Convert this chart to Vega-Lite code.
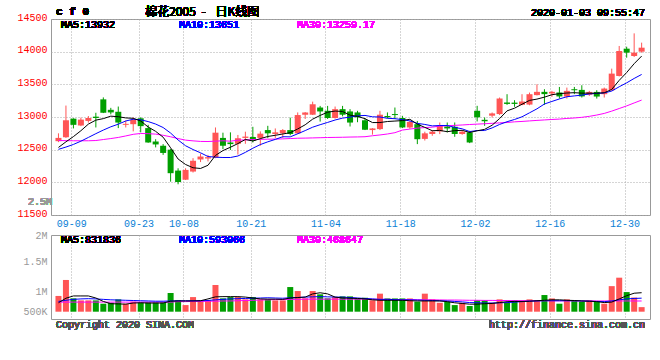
{
  "$schema": "https://vega.github.io/schema/vega-lite/v6.json",
  "background": "white",
  "padding": {"left": 16, "top": 5, "right": 5, "bottom": 5},
  "bounds": "flush",
  "spacing": 20,
  "config": {
    "view": {"stroke": "#999999", "strokeWidth": 1},
    "text": {"font": "Liberation Mono", "fontSize": 10},
    "axis": {"labelFont": "Liberation Mono", "labelFontSize": 10, "title": null, "domain": false, "ticks": false, "labelFlush": false, "labelOverlap": false, "gridDash": [1, 2], "gridColor": "#aaaaaa", "tickCount": 50}
  },
  "datasets": {
    "k": [
      {"i":0,"o":12630,"h":12750,"l":12615,"c":12680,"v":690000,"m5":12534,"m10":12505,"m30":12640,"vm5":390000,"vm10":450000,"vm30":420000},
      {"i":1,"o":12690,"h":13175,"l":12680,"c":12950,"v":1390000,"m5":12620,"m10":12540,"m30":12638,"vm5":590000,"vm10":500000,"vm30":420000},
      {"i":2,"o":12975,"h":12980,"l":12825,"c":12880,"v":585000,"m5":12700,"m10":12580,"m30":12636,"vm5":690000,"vm10":540000,"vm30":420000},
      {"i":3,"o":12870,"h":12990,"l":12860,"c":12960,"v":495000,"m5":12790,"m10":12630,"m30":12636,"vm5":690000,"vm10":560000,"vm30":420000},
      {"i":4,"o":12940,"h":13015,"l":12915,"c":12985,"v":495000,"m5":12891,"m10":12687,"m30":12636,"vm5":690000,"vm10":570000,"vm30":420000},
      {"i":5,"o":13005,"h":13065,"l":12840,"c":12985,"v":495000,"m5":12952,"m10":12745,"m30":12640,"vm5":600000,"vm10":560000,"vm30":420000},
      {"i":6,"o":13270,"h":13300,"l":13060,"c":13065,"v":350000,"m5":12975,"m10":12800,"m30":12655,"vm5":450000,"vm10":540000,"vm30":420000},
      {"i":7,"o":13110,"h":13140,"l":13040,"c":13070,"v":395000,"m5":13013,"m10":12850,"m30":12670,"vm5":350000,"vm10":520000,"vm30":420000},
      {"i":8,"o":13080,"h":13160,"l":12830,"c":12915,"v":540000,"m5":13004,"m10":12890,"m30":12687,"vm5":340000,"vm10":510000,"vm30":420000},
      {"i":9,"o":12880,"h":12945,"l":12840,"c":12895,"v":350000,"m5":12986,"m10":12939,"m30":12710,"vm5":330000,"vm10":500000,"vm30":420000},
      {"i":10,"o":12890,"h":12995,"l":12780,"c":12955,"v":440000,"m5":12980,"m10":12966,"m30":12735,"vm5":380000,"vm10":490000,"vm30":420000},
      {"i":11,"o":12980,"h":12995,"l":12765,"c":12860,"v":410000,"m5":12939,"m10":12957,"m30":12748,"vm5":390000,"vm10":480000,"vm30":420000},
      {"i":12,"o":12830,"h":12880,"l":12605,"c":12610,"v":410000,"m5":12847,"m10":12930,"m30":12745,"vm5":380000,"vm10":470000,"vm30":420000},
      {"i":13,"o":12625,"h":12660,"l":12535,"c":12580,"v":410000,"m5":12780,"m10":12892,"m30":12738,"vm5":380000,"vm10":460000,"vm30":420000},
      {"i":14,"o":12560,"h":12585,"l":12420,"c":12450,"v":410000,"m5":12691,"m10":12839,"m30":12720,"vm5":380000,"vm10":460000,"vm30":420000},
      {"i":15,"o":12500,"h":12510,"l":12010,"c":12140,"v":820000,"m5":12528,"m10":12754,"m30":12697,"vm5":460000,"vm10":470000,"vm30":420000},
      {"i":16,"o":12180,"h":12215,"l":11970,"c":12005,"v":495000,"m5":12357,"m10":12648,"m30":12670,"vm5":470000,"vm10":480000,"vm30":440000},
      {"i":17,"o":12040,"h":12215,"l":12035,"c":12190,"v":290000,"m5":12273,"m10":12560,"m30":12646,"vm5":470000,"vm10":480000,"vm30":440000},
      {"i":18,"o":12165,"h":12370,"l":12150,"c":12330,"v":640000,"m5":12223,"m10":12502,"m30":12635,"vm5":470000,"vm10":480000,"vm30":450000},
      {"i":19,"o":12350,"h":12440,"l":12310,"c":12395,"v":495000,"m5":12212,"m10":12452,"m30":12626,"vm5":480000,"vm10":480000,"vm30":450000},
      {"i":20,"o":12365,"h":12420,"l":12320,"c":12385,"v":495000,"m5":12261,"m10":12395,"m30":12625,"vm5":560000,"vm10":490000,"vm30":460000},
      {"i":21,"o":12380,"h":12840,"l":12370,"c":12760,"v":1170000,"m5":12412,"m10":12385,"m30":12630,"vm5":650000,"vm10":520000,"vm30":460000},
      {"i":22,"o":12680,"h":12760,"l":12510,"c":12560,"v":585000,"m5":12486,"m10":12380,"m30":12636,"vm5":660000,"vm10":540000,"vm30":470000},
      {"i":23,"o":12610,"h":12765,"l":12495,"c":12585,"v":640000,"m5":12537,"m10":12380,"m30":12630,"vm5":660000,"vm10":560000,"vm30":470000},
      {"i":24,"o":12590,"h":12725,"l":12425,"c":12675,"v":640000,"m5":12593,"m10":12403,"m30":12645,"vm5":660000,"vm10":570000,"vm30":480000},
      {"i":25,"o":12680,"h":12775,"l":12590,"c":12700,"v":540000,"m5":12656,"m10":12459,"m30":12650,"vm5":640000,"vm10":580000,"vm30":490000},
      {"i":26,"o":12695,"h":12850,"l":12610,"c":12640,"v":640000,"m5":12632,"m10":12522,"m30":12655,"vm5":600000,"vm10":590000,"vm30":500000},
      {"i":27,"o":12680,"h":12780,"l":12560,"c":12745,"v":540000,"m5":12669,"m10":12578,"m30":12658,"vm5":560000,"vm10":600000,"vm30":510000},
      {"i":28,"o":12800,"h":12865,"l":12675,"c":12750,"v":540000,"m5":12702,"m10":12620,"m30":12660,"vm5":550000,"vm10":610000,"vm30":520000},
      {"i":29,"o":12740,"h":12825,"l":12680,"c":12765,"v":495000,"m5":12720,"m10":12657,"m30":12662,"vm5":550000,"vm10":600000,"vm30":530000},
      {"i":30,"o":12750,"h":12815,"l":12680,"c":12800,"v":495000,"m5":12740,"m10":12698,"m30":12665,"vm5":540000,"vm10":590000,"vm30":530000},
      {"i":31,"o":12800,"h":12990,"l":12720,"c":12740,"v":1080000,"m5":12760,"m10":12696,"m30":12670,"vm5":600000,"vm10":610000,"vm30":540000},
      {"i":32,"o":12750,"h":13070,"l":12740,"c":13030,"v":905000,"m5":12817,"m10":12743,"m30":12675,"vm5":620000,"vm10":620000,"vm30":540000},
      {"i":33,"o":13035,"h":13075,"l":12970,"c":13070,"v":585000,"m5":12881,"m10":12792,"m30":12677,"vm5":640000,"vm10":640000,"vm30":550000},
      {"i":34,"o":13035,"h":13235,"l":13030,"c":13195,"v":905000,"m5":12967,"m10":12844,"m30":12680,"vm5":780000,"vm10":650000,"vm30":550000},
      {"i":35,"o":13145,"h":13170,"l":12930,"c":13085,"v":760000,"m5":13024,"m10":12882,"m30":12683,"vm5":830000,"vm10":660000,"vm30":550000},
      {"i":36,"o":13095,"h":13170,"l":12970,"c":12985,"v":585000,"m5":13073,"m10":12917,"m30":12686,"vm5":780000,"vm10":650000,"vm30":550000},
      {"i":37,"o":12985,"h":13160,"l":12975,"c":13120,"v":640000,"m5":13091,"m10":12954,"m30":12688,"vm5":640000,"vm10":640000,"vm30":550000},
      {"i":38,"o":13120,"h":13170,"l":13010,"c":13035,"v":670000,"m5":13084,"m10":12983,"m30":12690,"vm5":600000,"vm10":640000,"vm30":550000},
      {"i":39,"o":13085,"h":13120,"l":12855,"c":12915,"v":670000,"m5":13028,"m10":12998,"m30":12693,"vm5":590000,"vm10":620000,"vm30":550000},
      {"i":40,"o":13070,"h":13095,"l":12920,"c":12995,"v":580000,"m5":13010,"m10":13017,"m30":12695,"vm5":580000,"vm10":600000,"vm30":550000},
      {"i":41,"o":12950,"h":12980,"l":12800,"c":12805,"v":610000,"m5":12974,"m10":13024,"m30":12698,"vm5":560000,"vm10":580000,"vm30":550000},
      {"i":42,"o":12800,"h":12830,"l":12730,"c":12825,"v":500000,"m5":12915,"m10":13003,"m30":12713,"vm5":520000,"vm10":560000,"vm30":545000},
      {"i":43,"o":12815,"h":13095,"l":12800,"c":13035,"v":790000,"m5":12915,"m10":13000,"m30":12725,"vm5":500000,"vm10":540000,"vm30":540000},
      {"i":44,"o":13015,"h":13070,"l":12980,"c":12995,"v":580000,"m5":12931,"m10":12980,"m30":12740,"vm5":500000,"vm10":540000,"vm30":540000},
      {"i":45,"o":13045,"h":13145,"l":12970,"c":13030,"v":580000,"m5":12938,"m10":12974,"m30":12760,"vm5":500000,"vm10":530000,"vm30":535000},
      {"i":46,"o":12985,"h":13018,"l":12830,"c":12840,"v":580000,"m5":12945,"m10":12960,"m30":12800,"vm5":500000,"vm10":520000,"vm30":530000},
      {"i":47,"o":12840,"h":12940,"l":12820,"c":12925,"v":580000,"m5":12965,"m10":12940,"m30":12815,"vm5":480000,"vm10":520000,"vm30":530000},
      {"i":48,"o":12890,"h":12940,"l":12585,"c":12660,"v":440000,"m5":12890,"m10":12903,"m30":12830,"vm5":470000,"vm10":510000,"vm30":525000},
      {"i":49,"o":12665,"h":12775,"l":12640,"c":12750,"v":790000,"m5":12841,"m10":12886,"m30":12838,"vm5":470000,"vm10":500000,"vm30":520000},
      {"i":50,"o":12740,"h":12800,"l":12713,"c":12775,"v":540000,"m5":12790,"m10":12864,"m30":12845,"vm5":470000,"vm10":490000,"vm30":520000},
      {"i":51,"o":12780,"h":12916,"l":12738,"c":12865,"v":390000,"m5":12795,"m10":12870,"m30":12860,"vm5":470000,"vm10":480000,"vm30":515000},
      {"i":52,"o":12855,"h":12916,"l":12764,"c":12825,"v":440000,"m5":12775,"m10":12870,"m30":12866,"vm5":440000,"vm10":470000,"vm30":510000},
      {"i":53,"o":12850,"h":12916,"l":12697,"c":12740,"v":290000,"m5":12791,"m10":12841,"m30":12872,"vm5":390000,"vm10":450000,"vm30":510000},
      {"i":54,"o":12740,"h":12800,"l":12728,"c":12775,"v":390000,"m5":12796,"m10":12819,"m30":12878,"vm5":360000,"vm10":430000,"vm30":505000},
      {"i":55,"o":12765,"h":12789,"l":12600,"c":12610,"v":250000,"m5":12763,"m10":12777,"m30":12885,"vm5":330000,"vm10":400000,"vm30":500000},
      {"i":56,"o":13095,"h":13171,"l":12932,"c":12995,"v":500000,"m5":12789,"m10":12792,"m30":12891,"vm5":330000,"vm10":390000,"vm30":500000},
      {"i":57,"o":12957,"h":12993,"l":12865,"c":12935,"v":500000,"m5":12811,"m10":12793,"m30":12897,"vm5":350000,"vm10":380000,"vm30":495000},
      {"i":58,"o":13020,"h":13069,"l":12993,"c":13055,"v":390000,"m5":12874,"m10":12833,"m30":12903,"vm5":360000,"vm10":380000,"vm30":495000},
      {"i":59,"o":13045,"h":13298,"l":13030,"c":13283,"v":540000,"m5":12976,"m10":12886,"m30":12910,"vm5":400000,"vm10":390000,"vm30":490000},
      {"i":60,"o":13222,"h":13349,"l":13186,"c":13200,"v":390000,"m5":13094,"m10":12928,"m30":12916,"vm5":440000,"vm10":400000,"vm30":490000},
      {"i":61,"o":13220,"h":13257,"l":13156,"c":13200,"v":500000,"m5":13135,"m10":12962,"m30":12926,"vm5":450000,"vm10":420000,"vm30":485000},
      {"i":62,"o":13186,"h":13349,"l":13180,"c":13237,"v":440000,"m5":13195,"m10":13003,"m30":12932,"vm5":450000,"vm10":440000,"vm30":485000},
      {"i":63,"o":13190,"h":13374,"l":13180,"c":13349,"v":540000,"m5":13254,"m10":13064,"m30":12940,"vm5":460000,"vm10":460000,"vm30":480000},
      {"i":64,"o":13335,"h":13500,"l":13330,"c":13385,"v":500000,"m5":13274,"m10":13125,"m30":12948,"vm5":480000,"vm10":470000,"vm30":480000},
      {"i":65,"o":13385,"h":13425,"l":13186,"c":13350,"v":730000,"m5":13304,"m10":13199,"m30":12955,"vm5":500000,"vm10":480000,"vm30":480000},
      {"i":66,"o":13360,"h":13400,"l":13308,"c":13385,"v":580000,"m5":13341,"m10":13238,"m30":12962,"vm5":520000,"vm10":480000,"vm30":478000},
      {"i":67,"o":13375,"h":13460,"l":13282,"c":13315,"v":350000,"m5":13357,"m10":13276,"m30":12968,"vm5":520000,"vm10":480000,"vm30":476000},
      {"i":68,"o":13313,"h":13450,"l":13282,"c":13400,"v":540000,"m5":13367,"m10":13310,"m30":12978,"vm5":500000,"vm10":480000,"vm30":475000},
      {"i":69,"o":13425,"h":13460,"l":13350,"c":13410,"v":500000,"m5":13372,"m10":13323,"m30":12985,"vm5":490000,"vm10":480000,"vm30":474000},
      {"i":70,"o":13415,"h":13486,"l":13298,"c":13315,"v":440000,"m5":13365,"m10":13335,"m30":12995,"vm5":470000,"vm10":470000,"vm30":473000},
      {"i":71,"o":13340,"h":13400,"l":13323,"c":13384,"v":500000,"m5":13365,"m10":13353,"m30":13010,"vm5":460000,"vm10":460000,"vm30":472000},
      {"i":72,"o":13384,"h":13410,"l":13282,"c":13313,"v":440000,"m5":13364,"m10":13361,"m30":13030,"vm5":440000,"vm10":450000,"vm30":471000},
      {"i":73,"o":13349,"h":13450,"l":13298,"c":13435,"v":350000,"m5":13371,"m10":13369,"m30":13055,"vm5":400000,"vm10":440000,"vm30":470000},
      {"i":74,"o":13410,"h":13740,"l":13400,"c":13664,"v":1120000,"m5":13422,"m10":13397,"m30":13090,"vm5":420000,"vm10":470000,"vm30":470000},
      {"i":75,"o":13628,"h":14087,"l":13620,"c":14010,"v":1490000,"m5":13561,"m10":13463,"m30":13130,"vm5":560000,"vm10":520000,"vm30":470000},
      {"i":76,"o":14046,"h":14076,"l":13908,"c":13985,"v":860000,"m5":13681,"m10":13523,"m30":13170,"vm5":700000,"vm10":560000,"vm30":470000},
      {"i":77,"o":13934,"h":14280,"l":13919,"c":13985,"v":620000,"m5":13816,"m10":13590,"m30":13215,"vm5":810000,"vm10":580000,"vm30":469000},
      {"i":78,"o":14000,"h":14138,"l":13985,"c":14061,"v":200000,"m5":13932,"m10":13651,"m30":13259,"vm5":832000,"vm10":593000,"vm30":468647}
    ],
    "vgrid": [{"g": 2440000}, {"g": 1530000}, {"g": 626000}]
  },
  "vconcat": [
    {
      "width": 599,
      "height": 196,
      "data": {"name": "k"},
      "encoding": {
        "x": {
          "field": "i", "type": "quantitative",
          "scale": {"domain": [-0.33, 78.45], "nice": false, "zero": false},
          "axis": {
            "values": [1.71, 10.71, 16.71, 25.71, 35.71, 45.71, 55.71, 65.71, 75.71],
            "labelExpr": "datum.value < 5 ? '09-09' : datum.value < 13 ? '09-23' : datum.value < 20 ? '10-08' : datum.value < 30 ? '10-21' : datum.value < 40 ? '11-04' : datum.value < 50 ? '11-18' : datum.value < 60 ? '12-02' : datum.value < 70 ? '12-16' : '12-30'",
            "grid": true, "labelColor": "#0a7fd6", "labelPadding": 3, "labelOverlap": false, "labelFlush": false, "tickCount": 50
          }
        }
      },
      "layer": [
        {
          "mark": {"type": "rule", "strokeWidth": 1},
          "encoding": {
            "y": {"field": "l", "type": "quantitative",
              "scale": {"domain": [11500, 14500], "nice": false, "zero": false},
              "axis": {"values": [11500, 12000, 12500, 13000, 13500, 14000, 14500], "format": "d", "grid": true, "labelColor": "#ff0000", "labelPadding": 4, "labelOffset": -2, "labelOverlap": false, "labelFlush": false, "tickCount": 50}},
            "y2": {"field": "h"},
            "color": {"condition": {"test": "datum.c >= datum.o", "value": "#ff5555"}, "value": "#009f00"}
          }
        },
        {
          "mark": {"type": "bar", "size": 6},
          "encoding": {
            "y": {"field": "o", "type": "quantitative"},
            "y2": {"field": "c"},
            "color": {"condition": {"test": "datum.c >= datum.o", "value": "#ff5555"}, "value": "#009f00"}
          }
        },
        {"mark": {"type": "line", "color": "#ff00ff", "strokeWidth": 1}, "encoding": {"y": {"field": "m30", "type": "quantitative"}}},
        {"mark": {"type": "line", "color": "#0000ff", "strokeWidth": 1}, "encoding": {"y": {"field": "m10", "type": "quantitative"}}},
        {"mark": {"type": "line", "color": "#000000", "strokeWidth": 1}, "encoding": {"y": {"field": "m5", "type": "quantitative"}}},
        {"mark": {"type": "text", "align": "left", "baseline": "middle", "color": "#000000"}, "encoding": {"x": {"datum": 0.33}, "y": {"datum": 14408}, "text": {"value": "MA5:13932"}}},
        {"mark": {"type": "text", "align": "left", "baseline": "middle", "color": "#0000ff"}, "encoding": {"x": {"datum": 16.11}, "y": {"datum": 14408}, "text": {"value": "MA10:13651"}}},
        {"mark": {"type": "text", "align": "left", "baseline": "middle", "color": "#ff00ff"}, "encoding": {"x": {"datum": 31.89}, "y": {"datum": 14408}, "text": {"value": "MA30:13259.17"}}},
        {"mark": {"type": "text", "align": "left", "baseline": "middle", "color": "#000000", "fontWeight": "bold", "fontSize": 11}, "encoding": {"x": {"datum": -0.33}, "y": {"datum": 14607}, "text": {"value": "c f 0"}}},
        {"mark": {"type": "text", "align": "left", "baseline": "middle", "color": "#000000", "font": "Noto Sans CJK SC", "fontSize": 12}, "encoding": {"x": {"datum": 11.6}, "y": {"datum": 14607}, "text": {"value": "棉花2005"}}},
        {"mark": {"type": "text", "align": "center", "baseline": "middle", "color": "#000000", "font": "Noto Sans CJK SC", "fontSize": 12}, "encoding": {"x": {"datum": 19.4}, "y": {"datum": 14607}, "text": {"value": "-"}}},
        {"mark": {"type": "text", "align": "left", "baseline": "middle", "color": "#000000", "font": "Noto Sans CJK SC", "fontSize": 12}, "encoding": {"x": {"datum": 21.0}, "y": {"datum": 14607}, "text": {"value": "日K线图"}}},
        {"mark": {"type": "text", "align": "right", "baseline": "middle", "color": "#000000"}, "encoding": {"x": {"datum": 78.45}, "y": {"datum": 14596}, "text": {"value": "2020-01-03 09:55:47"}}}
      ]
    },
    {
      "width": 599,
      "height": 84,
      "data": {"name": "k"},
      "encoding": {
        "x": {
          "field": "i", "type": "quantitative",
          "scale": {"domain": [-0.33, 78.45], "nice": false, "zero": false},
          "axis": {"values": [1.71, 10.71, 16.71, 25.71, 35.71, 45.71, 55.71, 65.71, 75.71], "labels": false, "grid": true, "tickCount": 50}
        }
      },
      "layer": [
        {
          "data": {"name": "vgrid"},
          "mark": {"type": "rule", "color": "#aaaaaa", "strokeDash": [1, 2]},
          "encoding": {"x": {"datum": -0.33}, "x2": {"datum": 78.45}, "y": {"field": "g", "type": "quantitative", "scale": {"domain": [-320000, 3360000], "nice": false, "zero": false}, "axis": {"values": [3360000, 2190000, 876000, 30000], "labelExpr": "datum.value > 3000000 ? '2M' : datum.value > 2000000 ? '1.5M' : datum.value > 500000 ? '1M' : '500K'", "grid": false, "labelColor": "#999999", "labelPadding": 4, "labelOverlap": false, "labelFlush": false, "tickCount": 50}}}
        },
        {
          "mark": {"type": "bar", "size": 6},
          "encoding": {
            "y": {"field": "v", "type": "quantitative"},
            "y2": {"datum": 0},
            "color": {"condition": {"test": "datum.c >= datum.o", "value": "#ff5555"}, "value": "#009f00"}
          }
        },
        {"mark": {"type": "line", "color": "#ff00ff", "strokeWidth": 1}, "encoding": {"y": {"field": "vm30", "type": "quantitative"}}},
        {"mark": {"type": "line", "color": "#0000ff", "strokeWidth": 1}, "encoding": {"y": {"field": "vm10", "type": "quantitative"}}},
        {"mark": {"type": "line", "color": "#000000", "strokeWidth": 1}, "encoding": {"y": {"field": "vm5", "type": "quantitative"}}},
        {"mark": {"type": "text", "align": "left", "baseline": "middle", "color": "#000000"}, "encoding": {"x": {"datum": 0.33}, "y": {"datum": 3141000}, "text": {"value": "MA5:831836"}}},
        {"mark": {"type": "text", "align": "left", "baseline": "middle", "color": "#0000ff"}, "encoding": {"x": {"datum": 16.11}, "y": {"datum": 3141000}, "text": {"value": "MA10:593066"}}},
        {"mark": {"type": "text", "align": "left", "baseline": "middle", "color": "#ff00ff"}, "encoding": {"x": {"datum": 31.89}, "y": {"datum": 3141000}, "text": {"value": "MA30:468647"}}},
        {"mark": {"type": "text", "align": "right", "baseline": "middle", "color": "#999999"}, "encoding": {"x": {"datum": -0.856}, "y": {"datum": 4820000}, "text": {"value": "2.5M"}}},
        {"mark": {"type": "text", "align": "left", "baseline": "middle", "color": "#555555"}, "encoding": {"x": {"datum": -0.33}, "y": {"datum": -561000}, "text": {"value": "Copyright 2020 SINA.COM"}}},
        {"mark": {"type": "text", "align": "right", "baseline": "middle", "color": "#555555"}, "encoding": {"x": {"datum": 78.45}, "y": {"datum": -561000}, "text": {"value": "http://finance.sina.com.cn"}}}
      ]
    }
  ]
}
